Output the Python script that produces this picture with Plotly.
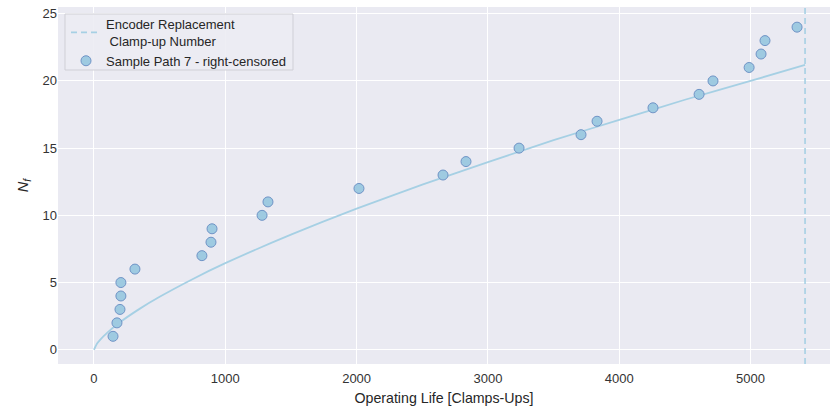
import plotly.graph_objects as go

# Sample path 7 observed failures (operating life, cumulative count)
life = [145, 175, 198, 205, 205, 312, 822, 891, 899, 1280, 1325, 2018, 2658, 2833,
        3237, 3709, 3831, 4257, 4608, 4714, 4989, 5080, 5110, 5354]
count = list(range(1, 25))

# Fitted mean cumulative curve
curve_t = [0, 25, 50, 100, 200, 350, 500, 750, 1000, 1500, 2000, 2500, 3000, 3500,
           4000, 4500, 5000, 5415]
curve_n = [0, 0.48, 0.78, 1.26, 2.06, 3.06, 3.94, 5.25, 6.44, 8.56, 10.5, 12.28, 13.96,
           15.59, 17.1, 18.6, 20.0, 21.2]

replacement = 5415

x_ticks = [0, 1000, 2000, 3000, 4000, 5000]
y_ticks = [0, 5, 10, 15, 20, 25]

LINE = "#a6d0e4"
FONT = "Liberation Sans, Arial, sans-serif"

# plot area in pixels (for legend box placement)
L, R, T, B = 58, 830, 7, 364
def px_x(p): return (p - L) / (R - L)
def px_y(p): return (B - p) / (B - T)

fig = go.Figure()

fig.add_trace(go.Scatter(
    x=curve_t, y=curve_n, mode="lines", line=dict(color=LINE, width=1.8, shape="spline", smoothing=0.6),
    showlegend=False, hoverinfo="skip"))

fig.add_trace(go.Scatter(
    x=[replacement, replacement], y=[-1.06, 25.5], mode="lines",
    line=dict(color=LINE, width=1.6, dash="6px,4px"),
    name="Encoder Replacement<br> Clamp-up Number"))

fig.add_trace(go.Scatter(
    x=life, y=count, mode="markers",
    marker=dict(size=10, color="#9ecae1", line=dict(color="#6f93c6", width=1)),
    name="Sample Path 7 - right-censored"))

# legend frame
fig.add_shape(type="rect", xref="paper", yref="paper",
              x0=px_x(65), x1=px_x(293), y0=px_y(70), y1=px_y(14),
              line=dict(color="#cfcfd6", width=1), fillcolor="rgba(236,236,243,0.9)",
              layer="above")

fig.update_layout(
    width=830, height=410,
    margin=dict(l=L, r=830 - R, t=T, b=410 - B),
    paper_bgcolor="white", plot_bgcolor="#eaeaf2",
    font=dict(family=FONT, size=13, color="#333333"),
    legend=dict(x=px_x(66), y=px_y(9), xanchor="left", yanchor="top",
                bgcolor="rgba(0,0,0,0)", borderwidth=0,
                font=dict(size=13, color="#262626"), tracegroupgap=0),
    showlegend=True,
)
fig.update_xaxes(range=[-274, 5605], tickvals=x_ticks, showgrid=True, gridcolor="white",
                 gridwidth=1.2, zeroline=False, showline=False, ticks="",
                 ticklabelstandoff=5,
                 title=dict(text="Operating Life [Clamps-Ups]", font=dict(size=14.2, color="#262626"), standoff=8),
                 tickfont=dict(size=13, color="#333333"))
fig.update_yaxes(range=[-1.06, 25.5], tickvals=y_ticks, showgrid=True, gridcolor="white",
                 gridwidth=1.2, zeroline=False, showline=False, ticks="",
                 title=dict(text="<i>N<sub>f</sub></i>", font=dict(size=14.5, color="#262626"), standoff=10),
                 tickfont=dict(size=13, color="#333333"))

fig.write_html("out.html")
